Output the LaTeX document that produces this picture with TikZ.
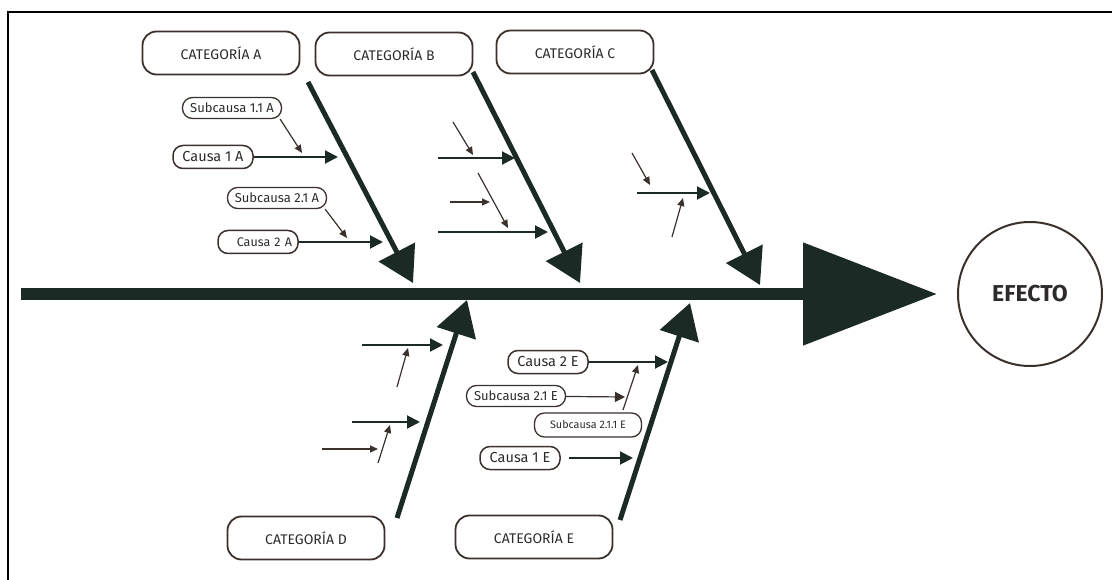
\documentclass[tikz,border=0pt]{standalone}
\usepackage{fontspec}
\setmainfont{Fira Sans}
\usepackage{tikz}
\usetikzlibrary{arrows.meta,shapes}

\definecolor{bone}{HTML}{1C2A26}
\definecolor{edge}{HTML}{3A302C}
\definecolor{ink}{HTML}{2E2A2A}

\begin{document}
\begin{tikzpicture}
[x=1pt,y=-1pt]
\tikzset{
	categoria/.style = {draw=edge, line width=1.8pt, rounded corners=14pt, minimum width=157pt, minimum height=43pt, text=ink, font=\fontsize{14}{16}\selectfont},
	causa/.style = {draw=edge, line width=1.5pt, rounded corners=10pt, minimum width=80pt, minimum height=23pt, inner sep=0pt, text=ink, font=\fontsize{14.5}{17}\selectfont},
	subcausa/.style = {draw=edge, line width=1.3pt, rounded corners=10pt, minimum width=99pt, minimum height=21pt, inner sep=0pt, text=ink, font=\fontsize{13}{15}\selectfont},
	espina/.style = {draw=bone, line width=5pt, -{Triangle[length=35pt,width=40pt,fill=bone]}},
	flecha/.style = {draw=bone, line width=2pt, -{Triangle[length=13pt,width=13pt,fill=bone]}},
	flechita/.style = {draw=edge, line width=1.2pt, -{Triangle[length=8pt,width=7pt,fill=edge]}}
}
\useasboundingbox (0,0) rectangle (1112,580);
\draw[line width=2pt] (8,580) -- (8,12) -- (1112,12);

% espina central y efecto
\coordinate (cola) at (21,294);
\coordinate (punta) at (937,294);
\draw[draw=bone, line width=12pt, -{Triangle[length=134pt,width=100pt,fill=bone]}] (cola) -- (punta);
\node[circle, draw=edge, line width=2pt, minimum size=144pt, text=ink, font=\bfseries\fontsize{23}{26}\selectfont] (efecto) at (1030,294) {EFECTO};

% categorias
\node[categoria] (catA) at (221,53) {CATEGORÍA A};
\node[categoria] (catB) at (394,54) {CATEGORÍA B};
\node[categoria] (catC) at (575,52) {CATEGORÍA C};
\node[categoria] (catD) at (306,538) {CATEGORÍA D};
\node[categoria] (catE) at (534,537) {CATEGORÍA E};

\coordinate (eA1) at (308,82);  \coordinate (eA2) at (413,283);
\coordinate (eB1) at (473,72);  \coordinate (eB2) at (580,283);
\coordinate (eC1) at (652,70);  \coordinate (eC2) at (760,285);
\coordinate (eD1) at (397,518); \coordinate (eD2) at (467,300);
\coordinate (eE1) at (620,520); \coordinate (eE2) at (690,303);
\foreach \c in {A,B,C,D,E}
	\draw[espina] (e\c1) -- (e\c2);

% categoria A
\node[causa] (cA1) at (213,157) {Causa 1 A};
\node[subcausa] (sA11) at (232,108) {Subcausa 1.1 A};
\node[subcausa] (sA21) at (277,198) {Subcausa 2.1 A};
\node[causa, font=\fontsize{12.5}{15}\selectfont, text width=68pt, align=right] (cA2) at (258,242) {Causa 2 A};
\coordinate (tA1) at (338,157);
\coordinate (tA11) at (302,153);
\coordinate (tA21) at (347,238);
\coordinate (tA2) at (383,242);
\draw[flecha] (cA1) -- (tA1);
\draw[flecha] (cA2) -- (tA2);
\draw[flechita] ([xshift=-2pt]sA11.south east) -- (tA11);
\draw[flechita] ([xshift=-2pt]sA21.south east) -- (tA21);

% categoria B
\coordinate (bB1) at (438,158); \coordinate (tB1) at (515,158);
\coordinate (bB11) at (453,122); \coordinate (tB11) at (473,155);
\coordinate (bB21) at (450,202); \coordinate (tB21) at (490,202);
\coordinate (bB22) at (478,173); \coordinate (tB22) at (508,228);
\coordinate (bB2) at (438,232); \coordinate (tB2) at (548,232);
\draw[flecha] (bB1) -- (tB1);
\draw[flecha] (bB2) -- (tB2);
\foreach \n in {11,21,22}
	\draw[flechita] (bB\n) -- (tB\n);

% categoria C
\coordinate (bC1) at (637,193); \coordinate (tC1) at (710,193);
\coordinate (bC11) at (632,153); \coordinate (tC11) at (650,185);
\coordinate (bC12) at (672,237); \coordinate (tC12) at (683,198);
\draw[flecha] (bC1) -- (tC1);
\draw[flechita] (bC11) -- (tC11);
\draw[flechita] (bC12) -- (tC12);

% categoria D
\coordinate (bD1) at (362,345); \coordinate (tD1) at (443,345);
\coordinate (bD11) at (397,387); \coordinate (tD11) at (408,348);
\coordinate (bD2) at (352,422); \coordinate (tD2) at (420,422);
\coordinate (bD21) at (378,463); \coordinate (tD21) at (390,425);
\coordinate (bD211) at (322,449); \coordinate (tD211) at (378,449);
\draw[flecha] (bD1) -- (tD1);
\draw[flecha] (bD2) -- (tD2);
\foreach \n in {11,21,211}
	\draw[flechita] (bD\n) -- (tD\n);

% categoria E
\node[causa] (cE2) at (548,362) {Causa 2 E};
\node[subcausa] (sE21) at (516,396) {Subcausa 2.1 E};
\node[subcausa, minimum width=107pt, minimum height=24pt, font=\fontsize{10.8}{12}\selectfont] (sE211) at (588,425) {Subcausa 2.1.1 E};
\node[causa] (cE1) at (520,458) {Causa 1 E};
\coordinate (tE2) at (668,362);
\coordinate (tE21) at (625,397);
\coordinate (bE211) at (623,410); \coordinate (tE211) at (638,365);
\coordinate (tE1) at (633,458);
\draw[flecha] (cE2) -- (tE2);
\draw[flechita, -{Triangle[length=10pt,width=10pt,fill=edge]}] (sE21) -- (tE21);
\draw[flechita] (bE211) -- (tE211);
\draw[flecha] ([xshift=8pt]cE1.east) -- (tE1);

\end{tikzpicture}
\end{document}
